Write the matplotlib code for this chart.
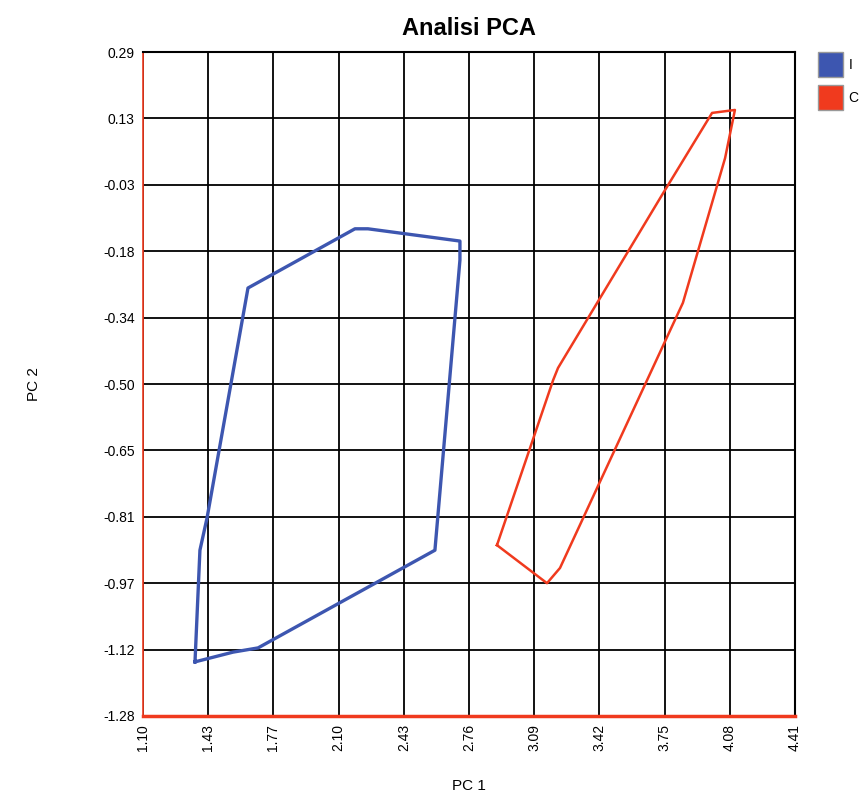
import matplotlib.pyplot as plt
from matplotlib.patches import Patch

plt.rcParams['font.family'] = ['Liberation Sans', 'DejaVu Sans']

# axis ticks as printed on the chart
x_ticks = [1.10, 1.43, 1.77, 2.10, 2.43, 2.76, 3.09, 3.42, 3.75, 4.08, 4.41]
y_ticks = [0.29, 0.13, -0.03, -0.18, -0.34, -0.50, -0.65, -0.81, -0.97, -1.12, -1.28]

# hull outline of group I
i_x = [1.364, 1.389, 1.425, 1.633, 2.176, 2.242, 2.709, 2.709, 2.582, 1.684, 1.557, 1.364]
i_y = [-1.152, -0.888, -0.812, -0.268, -0.128, -0.128, -0.157, -0.202, -0.888, -1.119, -1.129, -1.152]

# hull outline of group C
c_x = [2.897, 3.151, 3.217, 3.841, 4.055, 4.105, 3.989, 3.735, 3.207, 3.182, 2.897]
c_y = [-0.876, -0.966, -0.930, -0.303, 0.039, 0.153, 0.146, -0.048, -0.457, -0.486, -0.876]

blue = '#3d56b0'
red = '#f03a1e'

fig = plt.figure(figsize=(8.63, 7.93), dpi=100)
ax = fig.add_axes([0.1657, 0.0971, 0.7555, 0.8373])

ax.plot(i_x, i_y, color=blue, lw=2.4, zorder=3)
ax.plot(c_x, c_y, color=red, lw=1.8, zorder=3)

ax.set_xlim(1.10, 4.41)
ax.set_ylim(-1.28, 0.29)
step_x = (4.41 - 1.10) / 10
step_y = (0.29 + 1.28) / 10
ax.set_xticks([1.10 + k * step_x for k in range(11)])
ax.set_xticklabels(['%.2f' % v for v in x_ticks], rotation=90, fontsize=10)
ax.set_yticks([0.29 - k * step_y for k in range(11)])
ax.set_yticklabels(['%.2f' % v for v in y_ticks], fontsize=10)
ax.tick_params(length=0, pad=6)
ax.grid(True, color='black', lw=1.3)
ax.set_axisbelow(True)

for s in ['top', 'right']:
    ax.spines[s].set_color('black')
    ax.spines[s].set_linewidth(1.5)
ax.spines['left'].set_color(red)
ax.spines['left'].set_linewidth(1.2)
ax.spines['bottom'].set_color(red)
ax.spines['bottom'].set_linewidth(2.5)

ax.set_title('Analisi PCA', fontsize=17, fontweight='bold', pad=12)
ax.set_xlabel('PC 1', fontsize=11, labelpad=20)
ax.set_ylabel('PC 2', fontsize=11, labelpad=45)

handles = [Patch(facecolor=blue, edgecolor='#999999', label='I'),
           Patch(facecolor=red, edgecolor='#999999', label='C')]
ax.legend(handles=handles, loc='upper left', bbox_to_anchor=(1.035, 1.0),
          frameon=False, fontsize=10, handlelength=1.8, handleheight=2.4,
          handletextpad=0.4, labelspacing=0.55, borderaxespad=0, borderpad=0)

fig.savefig('out.png', dpi=100)
